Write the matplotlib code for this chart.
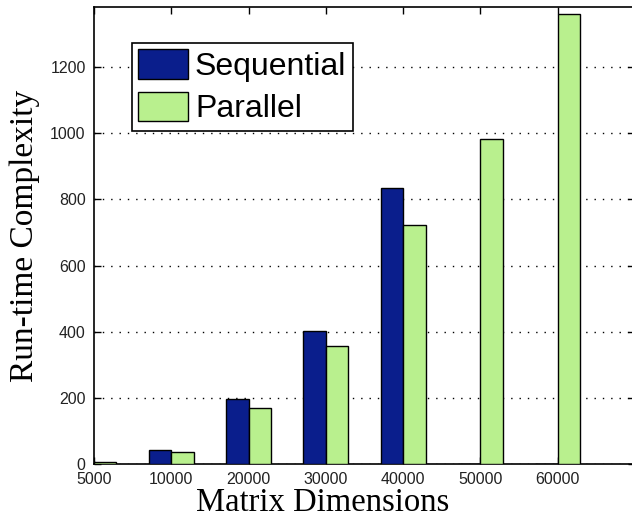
import numpy as np
import matplotlib
matplotlib.use("Agg")
import matplotlib.pyplot as plt

# dados
dimensions = ["5000", "10000", "20000", "30000", "40000", "50000", "60000"]
sequential = [8, 42, 198, 403, 836, 0, 0]
parallel = [7, 36, 168, 358, 724, 982, 1361]

W, H = 632, 519
fig = plt.figure(figsize=(W / 100, H / 100), dpi=100)
# eixo cortado na direita, como na imagem original
ax = fig.add_axes([94 / W, 1 - 464 / H, (635 - 94) / W, (464 - 7) / H])

x = np.arange(len(dimensions))
w = 0.29
ax.bar(x - w / 2, sequential, w, color="#0a1e8c", edgecolor="black",
       linewidth=1, label="Sequential", zorder=3)
ax.bar(x + w / 2, parallel, w, color="#b9f08e", edgecolor="black",
       linewidth=1, label="Parallel", zorder=3)

ax.set_xlim(0, 7)
ax.set_ylim(0, 1382)
ax.set_xticks(x)
ax.set_xticklabels(dimensions)
ax.set_yticks(np.arange(0, 1201, 200))

ax.yaxis.grid(True, color="black", linestyle=(0, (1, 5)), linewidth=1)
ax.set_axisbelow(True)
ax.tick_params(direction="in", length=5, width=1, top=True, right=True,
               labelsize=11.5, labelcolor="#222222", pad=6)
for lab in ax.get_xticklabels() + ax.get_yticklabels():
    lab.set_family("Liberation Sans")
for s in ax.spines.values():
    s.set_linewidth(1.2)

fig.text(323 / W, 1 - 503 / H, "Matrix Dimensions", ha="center", va="center",
         family="Liberation Serif", fontsize=23.5)
fig.text(25 / W, 1 - 236 / H, "Run-time Complexity", ha="center", va="center",
         rotation=90, family="Liberation Serif", fontsize=24)

leg = ax.legend(loc="upper left", bbox_to_anchor=(132 / W, 1 - 43 / H),
                bbox_transform=fig.transFigure, borderaxespad=0,
                fancybox=False, framealpha=1, edgecolor="black",
                prop={"family": "Liberation Sans", "size": 23},
                handlelength=1.55, handleheight=1.05, handletextpad=0.22,
                borderpad=0.2, labelspacing=0.3)
leg.get_frame().set_linewidth(1.2)
leg.set_zorder(5)

fig.savefig("out.png", dpi=100)
